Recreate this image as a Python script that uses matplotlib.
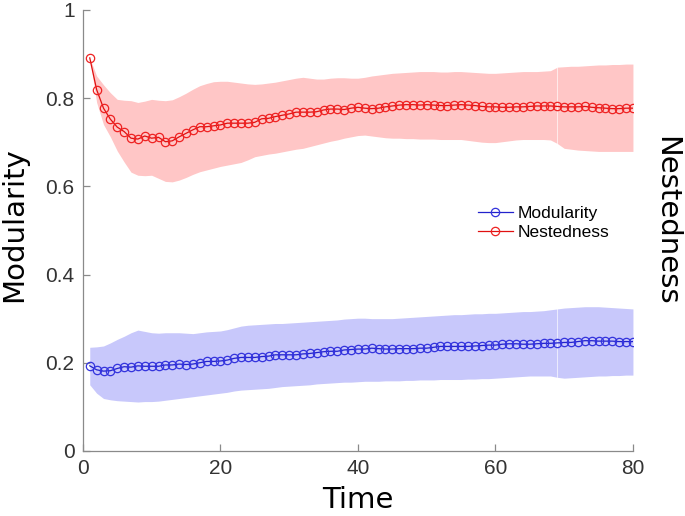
import matplotlib
matplotlib.use("Agg")
import matplotlib.pyplot as plt
import numpy as np

time = list(range(1, 81))

nest_mean = [0.891, 0.819, 0.777, 0.752, 0.734, 0.724, 0.709, 0.707, 0.714, 0.709,
             0.711, 0.701, 0.703, 0.712, 0.720, 0.728, 0.735, 0.735, 0.737, 0.739,
             0.743, 0.743, 0.743, 0.743, 0.745, 0.753, 0.754, 0.758, 0.761, 0.764,
             0.768, 0.768, 0.768, 0.769, 0.773, 0.775, 0.775, 0.774, 0.777, 0.779,
             0.777, 0.776, 0.777, 0.780, 0.782, 0.784, 0.785, 0.785, 0.784, 0.785,
             0.784, 0.783, 0.783, 0.784, 0.785, 0.784, 0.783, 0.781, 0.780, 0.780,
             0.779, 0.779, 0.780, 0.780, 0.781, 0.782, 0.782, 0.782, 0.781, 0.780,
             0.780, 0.780, 0.781, 0.779, 0.778, 0.777, 0.776, 0.776, 0.777, 0.777]

nest_upper = [0.891, 0.850, 0.830, 0.812, 0.797, 0.795, 0.794, 0.790, 0.793, 0.797,
              0.795, 0.794, 0.796, 0.803, 0.811, 0.820, 0.828, 0.833, 0.837, 0.838,
              0.838, 0.836, 0.834, 0.832, 0.831, 0.832, 0.834, 0.836, 0.839, 0.842,
              0.845, 0.847, 0.845, 0.843, 0.843, 0.845, 0.846, 0.846, 0.845, 0.845,
              0.847, 0.850, 0.852, 0.854, 0.856, 0.857, 0.858, 0.859, 0.860, 0.860,
              0.860, 0.859, 0.859, 0.860, 0.860, 0.859, 0.858, 0.857, 0.856, 0.856,
              0.857, 0.858, 0.859, 0.860, 0.860, 0.860, 0.861, 0.862, 0.870, 0.871,
              0.872, 0.872, 0.873, 0.874, 0.875, 0.875, 0.876, 0.876, 0.877, 0.877]

nest_lower = [0.891, 0.790, 0.740, 0.712, 0.680, 0.655, 0.632, 0.625, 0.624, 0.625,
              0.618, 0.611, 0.610, 0.614, 0.620, 0.627, 0.633, 0.637, 0.641, 0.645,
              0.648, 0.651, 0.654, 0.660, 0.667, 0.670, 0.673, 0.675, 0.678, 0.681,
              0.684, 0.686, 0.690, 0.694, 0.698, 0.702, 0.705, 0.709, 0.712, 0.715,
              0.716, 0.714, 0.712, 0.710, 0.709, 0.709, 0.708, 0.708, 0.707, 0.707,
              0.707, 0.706, 0.706, 0.706, 0.706, 0.704, 0.702, 0.700, 0.699, 0.699,
              0.701, 0.703, 0.705, 0.706, 0.706, 0.706, 0.706, 0.705, 0.697, 0.686,
              0.684, 0.682, 0.681, 0.680, 0.679, 0.679, 0.679, 0.679, 0.679, 0.679]

mod_mean = [0.193, 0.184, 0.181, 0.182, 0.187, 0.191, 0.190, 0.193, 0.192, 0.192,
            0.192, 0.195, 0.195, 0.197, 0.196, 0.197, 0.200, 0.203, 0.203, 0.204,
            0.206, 0.210, 0.212, 0.212, 0.212, 0.214, 0.215, 0.218, 0.218, 0.218,
            0.218, 0.220, 0.221, 0.223, 0.225, 0.226, 0.226, 0.229, 0.230, 0.231,
            0.231, 0.233, 0.232, 0.231, 0.231, 0.232, 0.232, 0.232, 0.233, 0.233,
            0.235, 0.237, 0.237, 0.237, 0.237, 0.237, 0.238, 0.239, 0.240, 0.240,
            0.242, 0.243, 0.243, 0.242, 0.242, 0.243, 0.244, 0.244, 0.245, 0.246,
            0.246, 0.248, 0.250, 0.250, 0.249, 0.249, 0.249, 0.248, 0.248, 0.248]

mod_upper = [0.235, 0.236, 0.238, 0.245, 0.253, 0.260, 0.268, 0.274, 0.271, 0.268,
             0.267, 0.268, 0.268, 0.268, 0.267, 0.266, 0.268, 0.270, 0.271, 0.272,
             0.275, 0.279, 0.283, 0.285, 0.286, 0.287, 0.288, 0.289, 0.289, 0.290,
             0.291, 0.292, 0.293, 0.294, 0.295, 0.296, 0.297, 0.299, 0.300, 0.301,
             0.301, 0.300, 0.300, 0.300, 0.300, 0.301, 0.302, 0.303, 0.304, 0.305,
             0.306, 0.307, 0.308, 0.309, 0.309, 0.310, 0.311, 0.311, 0.312, 0.312,
             0.313, 0.314, 0.315, 0.316, 0.316, 0.317, 0.318, 0.320, 0.322, 0.324,
             0.325, 0.326, 0.327, 0.327, 0.327, 0.326, 0.325, 0.324, 0.323, 0.322]

mod_lower = [0.150, 0.131, 0.119, 0.116, 0.114, 0.113, 0.112, 0.111, 0.112, 0.112,
             0.113, 0.115, 0.117, 0.119, 0.121, 0.123, 0.125, 0.127, 0.129, 0.131,
             0.133, 0.136, 0.138, 0.139, 0.140, 0.141, 0.142, 0.144, 0.146, 0.147,
             0.148, 0.149, 0.150, 0.152, 0.153, 0.154, 0.155, 0.156, 0.156, 0.157,
             0.158, 0.158, 0.158, 0.159, 0.159, 0.159, 0.160, 0.160, 0.161, 0.161,
             0.161, 0.162, 0.162, 0.162, 0.162, 0.163, 0.163, 0.164, 0.164, 0.165,
             0.166, 0.167, 0.168, 0.169, 0.170, 0.170, 0.170, 0.170, 0.167, 0.165,
             0.166, 0.167, 0.168, 0.169, 0.170, 0.170, 0.171, 0.171, 0.172, 0.172]

x_ticks = [0, 20, 40, 60, 80]
y_ticks = [0, 0.2, 0.4, 0.6, 0.8, 1]
y_ticklabels = ["0", "0.2", "0.4", "0.6", "0.8", "1"]

t = np.array(time)
split = 68  # patch seam index

fig = plt.figure(figsize=(6.85, 5.16), dpi=100)
ax = fig.add_axes([0.121, 0.126, 0.803, 0.855])

red_fill = "#ffc6c6"
blue_fill = "#c8c8fb"
for lo, hi, col in [(mod_lower, mod_upper, blue_fill), (nest_lower, nest_upper, red_fill)]:
    lo = np.array(lo); hi = np.array(hi)
    ax.fill_between(t[:split + 1], lo[:split + 1], hi[:split + 1], color=col, lw=0)
    ax.fill_between(t[split:], lo[split:], hi[split:], color=col, lw=0)
    ax.plot([t[split], t[split]], [lo[split], hi[split]], color="white", lw=0.6, alpha=0.7)

ax.plot(t, mod_mean, color="#2222cc", lw=0.9, marker="o", ms=6,
        mfc="none", mec="#3333dd", mew=0.9, label="Modularity")
ax.plot(t, nest_mean, color="#e01010", lw=0.9, marker="o", ms=6,
        mfc="none", mec="#ee2222", mew=0.9, label="Nestedness")

ax.set_xlim(0, 80)
ax.set_ylim(0, 1)
ax.set_xticks(x_ticks)
ax.set_yticks(y_ticks)
ax.set_yticklabels(y_ticklabels)
for sp in ["top", "right"]:
    ax.spines[sp].set_visible(False)
for sp in ["left", "bottom"]:
    ax.spines[sp].set_color("#8a8a8a")
    ax.spines[sp].set_linewidth(0.9)
ax.tick_params(direction="in", length=5, width=0.9, color="#8a8a8a",
               labelcolor="#333333", labelsize=15, pad=6)
for lab in ax.get_xticklabels() + ax.get_yticklabels():
    lab.set_fontfamily("Liberation Sans")

ax.set_xlabel("Time", fontsize=21, family="DejaVu Sans")
ax.set_ylabel("Modularity", fontsize=21, family="DejaVu Sans")
ax.xaxis.set_label_coords(0.5, -0.08)
ax.yaxis.set_label_coords(-0.099, 0.513)
fig.text(0.972, 0.572, "Nestedness", rotation=270, fontsize=21,
         family="DejaVu Sans", ha="center", va="center")

leg = ax.legend(loc="center left", bbox_to_anchor=(0.69, 0.517), frameon=False,
                prop={"family": "Liberation Sans", "size": 12.5},
                handlelength=2.0, handletextpad=0.3, labelspacing=0.25)

fig.savefig("out.png", dpi=100)
